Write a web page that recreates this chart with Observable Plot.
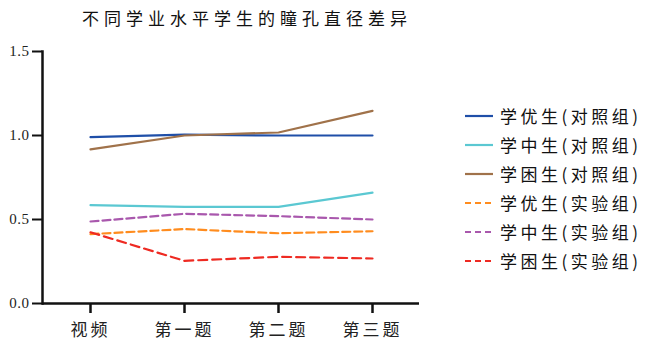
<!DOCTYPE html>
<html><head><meta charset="utf-8">
<script src="https://cdn.jsdelivr.net/npm/d3@7"></script>
<script src="https://cdn.jsdelivr.net/npm/@observablehq/plot@0.6"></script>
<style>
body{margin:0;background:#fff;}
#wrap{position:relative;width:659px;height:352px;overflow:hidden;font-family:"Liberation Serif","Noto Sans CJK SC",serif;}
#title{position:absolute;left:82px;width:320px;top:5px;text-align:center;font-size:17px;letter-spacing:5px;color:#111;font-family:"Noto Sans CJK SC",sans-serif;white-space:nowrap;}
#chart{position:absolute;left:0;top:0;}
#legend{position:absolute;left:465px;top:101px;}
.row{display:flex;align-items:center;height:29px;font-family:"Noto Sans CJK SC",sans-serif;font-size:17px;letter-spacing:3.5px;color:#111;white-space:nowrap;}
.row svg{margin-right:5px;}
g[aria-label="x-axis tick label"] text{letter-spacing:3px;}
g[aria-label="y-axis tick label"] text{font-family:"Liberation Serif","Times New Roman",serif;letter-spacing:0.5px;}
</style></head>
<body><div id="wrap"><div id="title">不同学业水平学生的瞳孔直径差异</div><div id="chart"></div><div id="legend"></div></div>
<script>
const categories = ["视频", "第一题", "第二题", "第三题"];
const seriesNames = ["学优生(对照组)", "学中生(对照组)", "学困生(对照组)", "学优生(实验组)", "学中生(实验组)", "学困生(实验组)"];
const seriesColors = ["#1f4fa8", "#5bc8d2", "#a0724a", "#ff8c1e", "#a958ad", "#ee2a22"];
const seriesDashed = [false, false, false, true, true, true];
const values = [
  [0.99, 1.005, 1.00, 1.00],
  [0.585, 0.575, 0.575, 0.66],
  [0.917, 1.00, 1.018, 1.147],
  [0.413, 0.443, 0.418, 0.43],
  [0.488, 0.534, 0.52, 0.50],
  [0.424, 0.254, 0.278, 0.268]
];
const yTicks = [0, 0.5, 1.0, 1.5];

const data = [];
seriesNames.forEach((s, i) => categories.forEach((c, j) => data.push({series: s, cat: c, value: values[i][j]})));

const marks = [];
seriesNames.forEach((s, i) => {
  marks.push(Plot.line(data.filter(d => d.series === s), {
    x: "cat", y: "value", stroke: seriesColors[i], strokeWidth: 2.2,
    strokeDasharray: seriesDashed[i] ? (i === 5 ? "9,5" : "8,4") : null
  }));
});

const plot = Plot.plot({
  width: 659, height: 352,
  marginLeft: 42, marginRight: 240, marginTop: 51, marginBottom: 49,
  style: {fontFamily: "Liberation Serif, Noto Sans CJK SC, serif", background: "transparent"},
  x: {type: "point", domain: categories, padding: 0.5},
  y: {domain: [0, 1.5]},
  marks: [
    Plot.axisY({ticks: yTicks, tickFormat: d3.format(".1f"), tickSize: 10, tickPadding: 3, fontSize: 15, label: null, stroke: "#111", strokeWidth: 2, fill: "#222", fontFamily: "Liberation Serif"}),
    Plot.axisX({tickSize: 10, tickPadding: 10, fontSize: 17, label: null, stroke: "#111", strokeWidth: 2.5, fontFamily: "Noto Sans CJK SC", fill: "#222"}),
    Plot.ruleY([0], {stroke: "#111", strokeWidth: 2.5}),
    Plot.frame({anchor: "left", stroke: "#111", strokeWidth: 2.5}),
    ...marks
  ]
});
document.getElementById("chart").appendChild(plot);

const leg = document.getElementById("legend");
seriesNames.forEach((s, i) => {
  const row = document.createElement("div");
  row.className = "row";
  row.innerHTML = `<svg width="30" height="6"><line x1="0" x2="28" y1="3" y2="3" stroke="${seriesColors[i]}" stroke-width="2.2" ${seriesDashed[i] ? 'stroke-dasharray="6,4"' : ''}/></svg><span>${s}</span>`;
  leg.appendChild(row);
});
</script></body></html>
